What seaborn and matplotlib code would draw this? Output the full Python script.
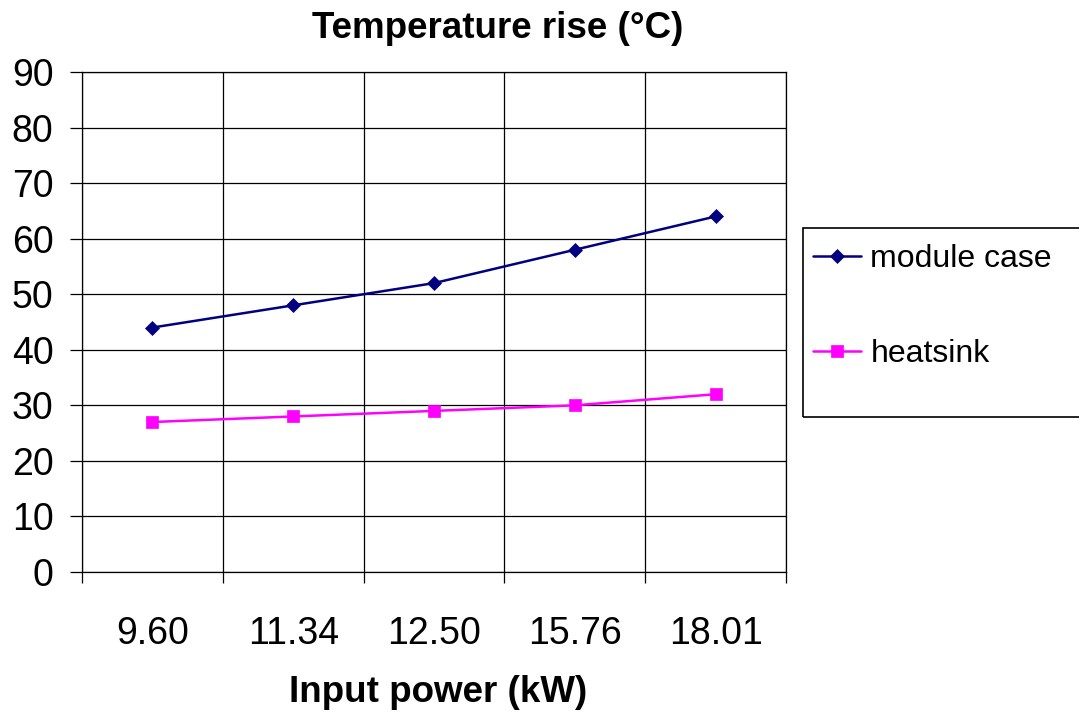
import matplotlib
matplotlib.use("Agg")
import matplotlib.pyplot as plt
from matplotlib.patches import Rectangle
import seaborn as sns
import pandas as pd
import numpy as np

# ---- data ----
power_labels = ["9.60", "11.34", "12.50", "15.76", "18.01"]
module_case = [44, 48, 52, 58, 64]
heatsink = [27, 28, 29, 30, 32]
y_ticks = [0, 10, 20, 30, 40, 50, 60, 70, 80, 90]

sns.set_theme(style="white")
plt.rcParams["font.family"] = ["Liberation Sans", "DejaVu Sans"]
plt.rcParams["text.color"] = "black"
plt.rcParams["xtick.color"] = "black"
plt.rcParams["ytick.color"] = "black"

df_mc = pd.DataFrame({"power": power_labels, "temp": module_case})
df_hs = pd.DataFrame({"power": power_labels, "temp": heatsink})

fig = plt.figure(figsize=(10.79, 7.17), dpi=100)
fig.patch.set_facecolor("white")
ax = fig.add_axes([82 / 1079, 1 - 572 / 717, (786 - 82) / 1079, (572 - 72) / 717])

sns.pointplot(data=df_mc, x="power", y="temp", order=power_labels, color="#000080",
              markers="D", errorbar=None, ax=ax, label="module case",
              markersize=7, linewidth=1.8, markeredgewidth=0.5)
sns.pointplot(data=df_hs, x="power", y="temp", order=power_labels, color="#FF00FF",
              markers="s", errorbar=None, ax=ax, label="heatsink",
              markersize=8, linewidth=1.8, markeredgewidth=0.5)

n = len(power_labels)
ax.set_xlim(-0.5, n - 0.5)
ax.set_ylim(0, 90)
ax.set_yticks(y_ticks)
ax.set_xticks(np.arange(n))
ax.set_xticklabels(power_labels)
ax.set_xticks(np.arange(n + 1) - 0.5, minor=True)
ax.set_xlabel("")
ax.set_ylabel("")

ax.grid(False)
ax.yaxis.grid(True, color="black", linewidth=0.9)
ax.xaxis.grid(True, which="minor", color="black", linewidth=0.9)
ax.set_axisbelow(True)
for s in ax.spines.values():
    s.set_color("black")
    s.set_linewidth(0.9)

ax.tick_params(axis="y", which="major", direction="out", length=8.5, width=0.9,
               color="black", pad=12, labelsize=27, left=True, labelcolor="black")
ax.tick_params(axis="x", which="major", length=0, pad=32, labelsize=27, labelcolor="black")
ax.tick_params(axis="x", which="minor", direction="out", length=8, width=0.9,
               color="black", bottom=True)

fig.text(498 / 1079, 1 - 29 / 717, "Temperature rise (°C)", ha="center", va="center",
         fontsize=26.5, fontweight="bold", color="black")
fig.text(438 / 1079, 1 - 693 / 717, "Input power (kW)", ha="center", va="center",
         fontsize=26.5, fontweight="bold", color="black")

handles, labels = ax.get_legend_handles_labels()
if ax.get_legend() is not None:
    ax.get_legend().remove()
fig.legend(handles, labels, loc="upper left",
           bbox_to_anchor=(813 / 1079, 1 - 244 / 717), bbox_transform=fig.transFigure,
           frameon=False, fontsize=23, borderpad=0, borderaxespad=0,
           labelspacing=2.03, handlelength=1.5, handletextpad=0.3,
           labelcolor="black")
fig.add_artist(Rectangle((803 / 1079, 1 - 417 / 717), 0.3, (417 - 228) / 717,
                         transform=fig.transFigure, fill=False, edgecolor="black",
                         linewidth=1.2, clip_on=False))

fig.savefig("out.png", dpi=100, facecolor="white")
